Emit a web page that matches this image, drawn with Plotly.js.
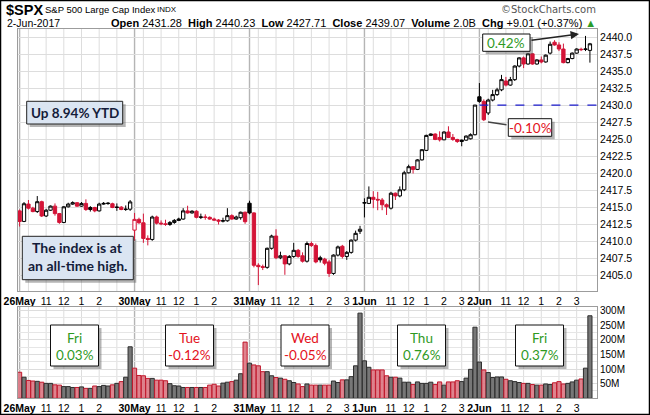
<!DOCTYPE html>
<html><head><meta charset="utf-8">
<script src="https://cdn.plot.ly/plotly-3.0.1.min.js"></script>
<style>html,body{margin:0;padding:0;background:#fff}#chart{width:650px;height:415px}</style>
</head><body><div id="chart"></div>
<script>
// ---------- data ----------
const days = ['26May','30May','31May','1Jun','2Jun'];
const dayNames = ['Fri','Tue','Wed','Thu','Fri'];
const hourOffsets = [2,6,10,14,18,22];          // 15-min bars after 9:30 open for 10:00..15:00
const hourText = ['', '11', '12', '1', '2', '3'];
const lastHourShown = [false,false,true,true,true];
const barsPerDay = 26;
const prevClose = 2415.07;                       // 25-May close
const volText = '2.0B';
const ytdText = 'Up 8.94% YTD';

const open1 = [2414.50,2412.95,2415.50,2414.90,2414.40,2415.85,2413.75,2414.60,2415.20,2414.10,2412.80,2415.10,2415.50,2415.70,2415.20,2415.60,2414.70,2415.00,2414.50,2415.50,2415.58,2415.55,2415.00,2415.05,2414.70,2414.75];
const high1 = [2414.70,2415.80,2416.10,2415.10,2416.68,2416.00,2414.80,2415.30,2415.60,2414.20,2415.20,2415.70,2415.90,2415.80,2415.80,2416.20,2415.20,2415.10,2415.70,2415.80,2415.80,2415.70,2415.60,2415.20,2415.30,2416.10];
const low1  = [2412.20,2412.85,2414.70,2414.30,2414.20,2413.60,2413.60,2414.50,2413.80,2412.60,2412.70,2415.00,2415.40,2415.10,2415.10,2414.50,2414.40,2414.30,2414.40,2415.40,2415.40,2414.90,2414.50,2414.60,2414.50,2414.50];
const close1= [2412.95,2415.55,2414.90,2414.40,2415.85,2413.75,2414.60,2415.20,2414.10,2412.80,2415.10,2415.50,2415.70,2415.20,2415.60,2414.70,2415.00,2414.50,2415.50,2415.60,2415.62,2415.00,2415.05,2414.70,2414.75,2415.82];

const open2 = [2411.67,2413.25,2412.75,2410.45,2410.30,2413.60,2412.70,2412.60,2412.50,2412.80,2413.10,2413.30,2414.50,2414.20,2414.45,2413.55,2413.60,2413.55,2413.30,2413.15,2413.00,2413.05,2413.80,2413.30,2413.50,2414.30];
const high2 = [2414.20,2413.50,2414.10,2410.90,2413.80,2413.80,2413.10,2413.20,2413.00,2413.30,2413.50,2414.90,2415.26,2414.60,2414.60,2414.10,2414.00,2413.70,2413.50,2413.30,2413.50,2414.90,2414.00,2413.80,2414.40,2414.40];
const low2  = [2410.10,2412.60,2409.80,2409.43,2410.10,2412.50,2412.40,2412.30,2412.30,2412.60,2413.00,2413.20,2414.10,2414.10,2413.40,2413.30,2413.20,2413.20,2413.10,2412.50,2412.80,2412.90,2413.20,2413.20,2413.20,2412.60];
const close2= [2413.25,2412.75,2410.45,2410.30,2413.60,2412.70,2412.60,2412.50,2412.80,2413.10,2413.30,2414.50,2414.20,2414.45,2413.55,2413.60,2413.55,2413.30,2413.15,2413.00,2413.05,2413.80,2413.30,2413.60,2414.30,2412.91];

const open3 = [2415.63,2414.20,2406.50,2406.30,2406.20,2409.00,2410.80,2407.60,2407.90,2406.70,2407.80,2408.70,2407.90,2407.10,2409.70,2409.40,2407.60,2407.40,2407.00,2405.30,2408.00,2409.30,2407.80,2408.40,2410.20,2411.50];
const high3 = [2415.99,2414.30,2406.80,2406.60,2409.10,2411.00,2411.80,2408.50,2408.00,2408.00,2409.80,2408.90,2408.40,2410.00,2410.00,2409.70,2407.90,2407.60,2407.30,2408.10,2409.40,2409.50,2408.60,2410.30,2411.60,2412.30];
const low3  = [2414.00,2406.20,2403.59,2405.80,2406.00,2408.80,2407.40,2407.40,2405.10,2406.50,2407.60,2407.60,2406.90,2406.90,2409.20,2406.80,2406.90,2406.50,2404.80,2405.10,2407.80,2407.50,2407.30,2408.20,2410.00,2411.10];
const close3= [2414.20,2406.50,2406.30,2406.20,2409.00,2410.80,2407.60,2407.90,2406.70,2407.80,2408.70,2407.80,2407.10,2409.70,2409.40,2407.00,2407.30,2406.80,2405.30,2408.00,2409.20,2407.80,2408.40,2410.20,2411.20,2411.80];

const open4 = [2415.65,2415.60,2416.50,2416.20,2416.10,2415.40,2414.90,2417.10,2416.70,2417.60,2420.10,2421.00,2420.60,2422.00,2423.40,2425.60,2425.80,2425.30,2424.95,2426.10,2425.30,2425.00,2424.70,2424.90,2425.10,2425.70];
const high4 = [2416.35,2418.10,2417.40,2417.30,2416.40,2415.60,2417.30,2417.20,2418.10,2420.40,2421.30,2421.10,2422.10,2423.60,2425.70,2425.90,2425.90,2426.20,2426.20,2426.94,2425.80,2425.10,2425.00,2425.60,2425.90,2430.06];
const low4  = [2413.54,2415.50,2414.90,2414.60,2414.60,2413.90,2414.70,2416.10,2416.50,2417.40,2420.00,2420.00,2420.50,2421.90,2423.30,2425.50,2424.90,2424.70,2424.90,2425.20,2424.80,2424.50,2424.00,2424.80,2425.00,2425.60];
const close4= [2415.70,2416.50,2416.20,2416.10,2415.40,2415.10,2417.10,2416.70,2417.60,2420.10,2421.00,2420.60,2422.00,2423.50,2425.60,2425.80,2425.00,2424.95,2426.10,2425.30,2425.00,2424.70,2424.90,2425.50,2425.70,2430.06];

const open5 = [2431.28,2430.60,2428.90,2430.80,2431.60,2432.30,2433.60,2433.00,2433.80,2435.80,2437.00,2436.10,2437.60,2436.10,2436.70,2436.40,2437.70,2439.30,2438.90,2438.30,2436.30,2436.90,2437.70,2438.20,2438.25,2438.10];
const high5 = [2433.30,2430.90,2431.00,2432.30,2432.60,2434.50,2434.20,2434.20,2435.90,2437.10,2437.20,2437.70,2437.70,2436.80,2437.20,2437.50,2439.40,2439.60,2439.30,2439.10,2437.00,2437.80,2438.40,2438.50,2440.23,2439.20];
const low5  = [2430.40,2427.71,2428.60,2430.60,2431.40,2432.10,2432.80,2432.90,2433.60,2435.60,2435.50,2436.00,2436.00,2436.00,2436.20,2436.30,2437.50,2438.80,2438.00,2436.20,2436.20,2436.80,2437.60,2438.00,2438.00,2436.30];
const close5= [2430.60,2427.90,2430.80,2431.60,2432.30,2433.80,2433.00,2433.80,2435.80,2437.00,2436.10,2437.60,2436.10,2436.70,2436.40,2437.40,2439.00,2438.90,2438.30,2436.30,2436.90,2437.70,2438.30,2438.25,2438.30,2439.07];

// volume, millions of shares per 15-min bar
const vol1 = [89,72,61,59,58,55,51,51,46,45,40,40,37,37,39,34,34,42,40,44,42,46,51,57,72,176];
const vol2 = [103,78,77,68,68,62,62,60,50,43,42,37,37,37,37,37,37,45,48,42,52,55,57,62,84,192];
const vol3 = [120,114,111,91,91,77,71,69,65,60,54,49,40,49,45,45,45,45,45,59,54,63,63,74,111,291];
const vol4 = [128,106,97,97,97,77,72,72,69,55,55,47,56,51,51,55,47,56,45,56,56,60,57,69,99,243];
const vol5 = [124,97,88,71,73,73,65,60,57,54,51,51,47,45,45,49,47,53,57,49,51,56,62,66,103,282];

// ---------- build ----------
const O = [...open1,...open2,...open3,...open4,...open5];
const H = [...high1,...high2,...high3,...high4,...high5];
const L = [...low1,...low2,...low3,...low4,...low5];
const C = [...close1,...close2,...close3,...close4,...close5];
const V = [...vol1,...vol2,...vol3,...vol4,...vol5].map(v=>v*1e6);
const N = C.length;
const X = C.map((_,i)=>i);

const RED='#d41437', BLK='#000000';
const upT={x:[],open:[],high:[],low:[],close:[]}, dnT={x:[],open:[],high:[],low:[],close:[]};
const vCol=[], vLine=[];
let pc = prevClose;
for(let i=0;i<N;i++){
  const t = C[i] >= pc ? upT : dnT;
  t.x.push(i); t.open.push(O[i]); t.high.push(H[i]); t.low.push(L[i]); t.close.push(C[i]);
  const red = C[i] < pc;
  vCol.push(red ? 'rgba(220,118,130,0.9)' : 'rgba(112,112,112,0.95)');
  vLine.push(red ? '#c0182c' : '#2e2e2e');
  pc = C[i];
}
const dayClose = days.map((_,d)=>C[d*barsPerDay+barsPerDay-1]);
const dayChg = dayClose.map((c,d)=>{const p = d===0?prevClose:dayClose[d-1]; return (c/p-1)*100;});
const lastStart = (days.length-1)*barsPerDay;
const lastO = O[lastStart];
const lastH = Math.max(...H.slice(lastStart));
const lastL = Math.min(...L.slice(lastStart));
const lastC = C[N-1];
const prevDayC = dayClose[days.length-2];
const chg = lastC - prevDayC;
const fmtPct = v => (v<0?'-':'') + Math.abs(v).toFixed(2) + '%';

const tickvals=[], ticktext=[], dayTicks=[], hourTicks=[];
days.forEach((d,di)=>{
  const s = di*barsPerDay;
  tickvals.push(s); ticktext.push('<b>'+d+'</b>'); dayTicks.push(s);
  hourOffsets.forEach((o,hi)=>{
    tickvals.push(s+o);
    let t = hourText[hi];
    if(hi===hourOffsets.length-1 && !lastHourShown[di]) t='';
    ticktext.push(t); hourTicks.push(s+o);
  });
});

// ---------- geometry (pixels -> paper) ----------
const W=650, Hh=415;
const px = v=>v/W, py = v=>1-v/Hh;
const plotL=17.5, plotR=597;
const xr=[-0.475, 130.6];
const mainTop=28.5, mainBot=291, volTop=306.7, volBot=398.3;

const candleCommon = {type:'candlestick', xaxis:'x', yaxis:'y', hoverinfo:'skip', whiskerwidth:0};
const traces = [
  Object.assign({}, candleCommon, upT, {
    increasing:{line:{color:BLK,width:1}, fillcolor:'#ffffff'},
    decreasing:{line:{color:BLK,width:1}, fillcolor:BLK}}),
  Object.assign({}, candleCommon, dnT, {
    increasing:{line:{color:RED,width:1}, fillcolor:'#ffffff'},
    decreasing:{line:{color:RED,width:1}, fillcolor:RED}}),
  {type:'bar', x:X, y:V, xaxis:'x2', yaxis:'y2', marker:{color:vCol, line:{color:vLine,width:1}}, hoverinfo:'skip'}
];

const shapes=[];
[[hourTicks,'#dddddd',1],[dayTicks,'#b5b5b5',1.4]].forEach(([arr,col,w])=>{
  arr.forEach(v=>{
    shapes.push({type:'line',xref:'x',yref:'paper',x0:v,x1:v,y0:py(mainBot),y1:py(mainTop),line:{color:col,width:w},layer:'below'});
    shapes.push({type:'line',xref:'x2',yref:'paper',x0:v,x1:v,y0:py(volBot),y1:py(volTop),line:{color:col,width:w},layer:'below'});
  });
});
shapes.push({type:'line',xref:'x',yref:'y',x0:lastStart,x1:xr[1],y0:prevDayC,y1:prevDayC,line:{color:'#1a1acc',width:1.2,dash:'dash'},layer:'above'});

const anns=[];
function box(x0,y0,x1,y1,fill,border){
  shapes.push({type:'rect',xref:'paper',yref:'paper',x0:px(x0+3),x1:px(x1+3),y0:py(y1+3),y1:py(y0+3),fillcolor:'rgba(90,90,90,0.45)',line:{width:0},layer:'above'});
  shapes.push({type:'rect',xref:'paper',yref:'paper',x0:px(x0),x1:px(x1),y0:py(y1),y1:py(y0),fillcolor:fill,line:{color:border,width:1},layer:'above'});
}
function txt(t,x,y,opt){
  anns.push(Object.assign({text:t,xref:'paper',yref:'paper',x:px(x),y:py(y),showarrow:false,xanchor:'center',yanchor:'middle'},opt||{}));
}
const GREEN='#2f9a1f', TRED='#e3121c';
const cal='Lato, Carlito, Calibri, sans-serif';
const ar='Liberation Sans, Arial, sans-serif';

// header
txt('<b>$SPX</b>',4,9.5,{xanchor:'left',font:{family:ar,size:14.5,color:'#000'}});
txt('S&P 500 Large Cap Index',43,10,{xanchor:'left',font:{family:ar,size:9.5,color:'#000'}});
txt('INDX',155,10,{xanchor:'left',font:{family:ar,size:8,color:'#000'}});
txt('2-Jun-2017',5,23,{xanchor:'left',font:{family:ar,size:10.5,color:'#000'}});
txt('<b>Open</b> '+lastO.toFixed(2)+'  <b>High</b> '+lastH.toFixed(2)+'  <b>Low</b> '+lastL.toFixed(2)+'  <b>Close</b> '+lastC.toFixed(2)+'  <b>Volume</b> '+volText+'  <b>Chg</b> '+(chg>=0?'+':'')+chg.toFixed(2)+' ('+(chg>=0?'+':'')+(chg/prevDayC*100).toFixed(2)+'%) <span style="color:#2a9d2a">▲</span>',
    598,22.5,{xanchor:'right',font:{family:ar,size:11,color:'#000'}});
txt('©StockCharts.com',598,9.5,{xanchor:'right',font:{family:'DejaVu Sans, sans-serif',size:10,color:'#555'}});

// note boxes
box(26.7,101.3,122.7,124,'#dbe5f2','#222');
txt('<b>'+ytdText+'</b>',74.7,112.7,{font:{family:cal,size:13.5,color:'#141c3a'}});
box(22.3,236.3,133.3,279.7,'#dbe5f2','#222');
txt('<b>The index is at</b>',77.8,247.5,{font:{family:cal,size:14,color:'#141c3a'}});
txt('<b>an all-time high.</b>',77.8,265,{font:{family:cal,size:14,color:'#141c3a'}});

const hiPct = (lastH/prevDayC-1)*100, loPct=(lastL/prevDayC-1)*100;
box(482.7,34,530,51.3,'#ffffff','#111');
txt(fmtPct(hiPct),506.3,42.8,{font:{family:cal,size:13.5,color:GREEN}});
anns.push({text:'',xref:'paper',yref:'paper',x:px(579),y:py(34),ax:-49,ay:6.5,axref:'pixel',ayref:'pixel',showarrow:true,arrowhead:2,arrowsize:1.2,arrowwidth:1.4,arrowcolor:'#222'});
anns.push({text:'',xref:'paper',yref:'paper',x:px(488),y:py(122),ax:20,ay:3,showarrow:true,arrowhead:0,arrowwidth:1.5,arrowcolor:'#444'});
box(508.3,118.7,551.7,136.3,'#ffffff','#111');
txt(fmtPct(loPct),530,127.5,{font:{family:cal,size:13.5,color:TRED}});

const boxCx=[74.5,189.5,305,421.5,539.5];
days.forEach((d,i)=>{
  const cx=boxCx[i], col = dayChg[i]>=0?GREEN:TRED;
  box(cx-24,325,cx+24,366,'#ffffff','#111');
  txt(dayNames[i],cx,338,{font:{family:cal,size:13.5,color:col}});
  txt(fmtPct(dayChg[i]),cx,354.5,{font:{family:cal,size:13.5,color:col}});
});

shapes.push({type:'rect',xref:'paper',yref:'paper',x0:0,x1:1,y0:0,y1:1,line:{color:'#000',width:2.5},layer:'above'});

const axX = {domain:[px(plotL),px(plotR)], range:xr, tickvals, ticktext, tickangle:0, showgrid:false, zeroline:false,
  showline:true, mirror:true, linecolor:'#9c9c9c', linewidth:1, ticks:'', tickfont:{family:ar,size:10.5,color:'#000'}, fixedrange:true};
const layout = {
  width:W, height:Hh, margin:{l:0,r:0,t:0,b:0}, paper_bgcolor:'#fff', plot_bgcolor:'#fff', showlegend:false,
  boxgap:0.25, boxgroupgap:0, bargap:0.06,
  xaxis:Object.assign({}, axX, {anchor:'y', rangeslider:{visible:false}}),
  xaxis2:Object.assign({}, axX, {anchor:'y2'}),
  yaxis:{domain:[py(mainBot),py(mainTop)], range:[2402.72,2441.32], side:'right', tick0:2405, dtick:2.5, tickformat:'.1f',
    showgrid:true, gridcolor:'#dddddd', zeroline:false, showline:true, mirror:true, linecolor:'#9c9c9c', ticks:'',
    tickfont:{family:ar,size:10.5,color:'#000'}, fixedrange:true},
  yaxis2:{domain:[py(volBot),py(volTop)], range:[0,313e6], side:'right', tickvals:[50e6,100e6,150e6,200e6,250e6,300e6],
    ticktext:['50M','100M','150M','200M','250M','300M'], showgrid:true, gridcolor:'#dddddd', zeroline:false,
    minor:{dtick:25e6, tick0:0, showgrid:true, gridcolor:'#e6e6e6'},
    showline:true, mirror:true, linecolor:'#9c9c9c', ticks:'', tickfont:{family:ar,size:10,color:'#000'}, fixedrange:true},
  shapes, annotations:anns
};
Plotly.newPlot('chart', traces, layout, {staticPlot:true, displayModeBar:false});
</script></body></html>
